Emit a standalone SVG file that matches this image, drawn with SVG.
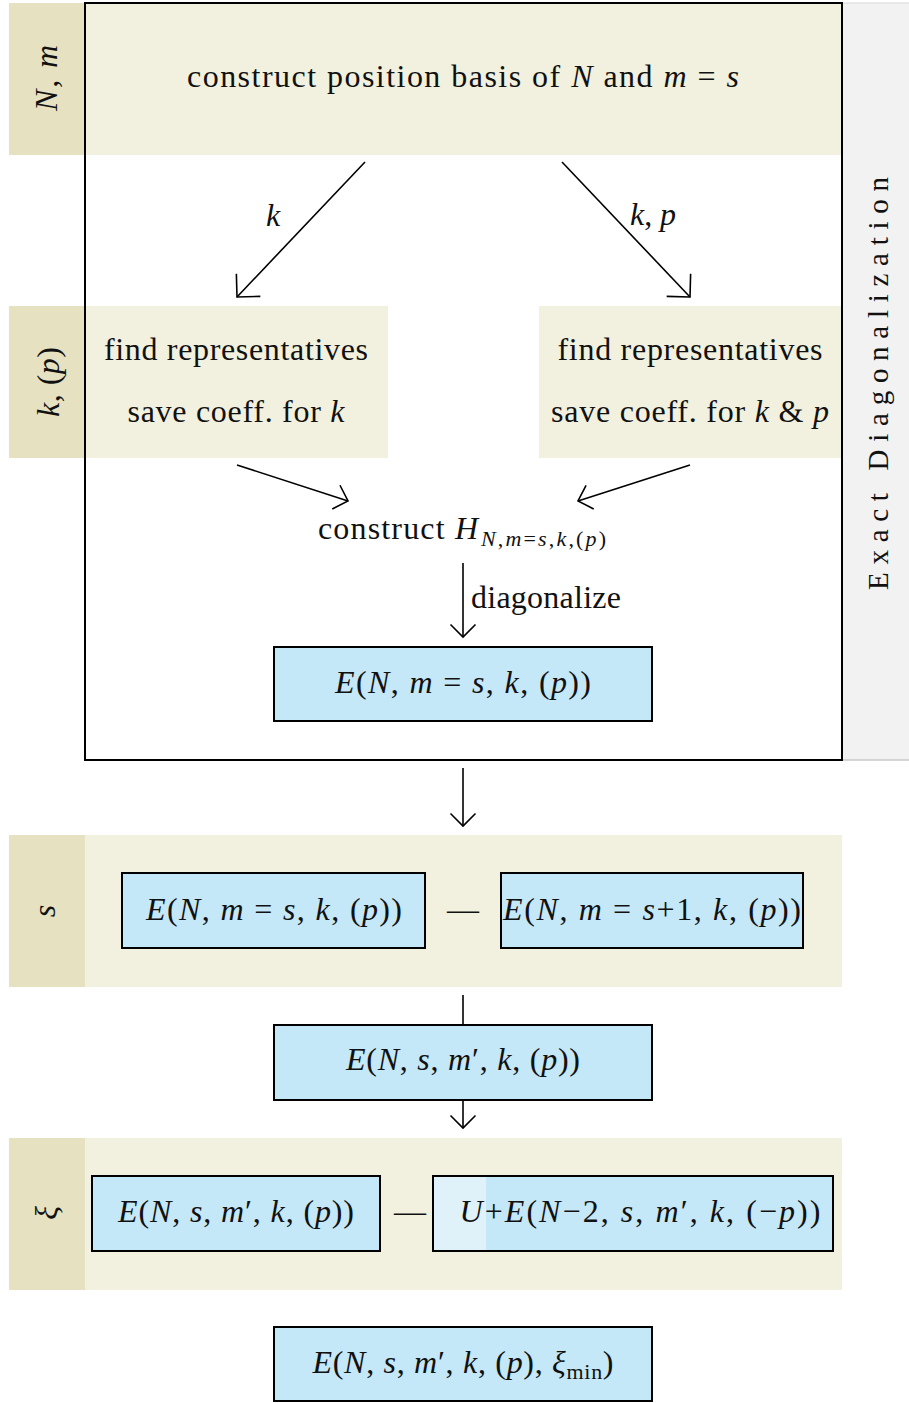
<svg xmlns="http://www.w3.org/2000/svg" width="909" height="1403" viewBox="0 0 909 1403">
<style>
text{font-family:"Liberation Serif","DejaVu Serif",serif;fill:#111;font-size:32px}
.i{font-style:italic}
.lab{fill:#e6e2c1}
.row{fill:#f2f0df}
.box{fill:#c5e8f8;stroke:#000;stroke-width:2}
.ln{stroke:#000;stroke-width:1.6;fill:none}
</style>
<defs>
<marker id="h" markerUnits="userSpaceOnUse" viewBox="-20 -20 40 40" markerWidth="40" markerHeight="40" refX="0" refY="0" orient="auto">
<path d="M-12.5,-12.5 L0,0 L-12.5,12.5" fill="none" stroke="#000" stroke-width="1.6"/>
</marker>
<marker id="hl" markerUnits="userSpaceOnUse" viewBox="-20 -20 40 40" markerWidth="40" markerHeight="40" refX="0" refY="0" orient="auto">
<path d="M-16.5,-16.5 L0,0 L-16.5,16.5" fill="none" stroke="#000" stroke-width="1.6"/>
</marker>
</defs>
<rect width="909" height="1403" fill="#fff"/>
<g id="frame-bg">
<rect x="842" y="3" width="67" height="757" fill="#f2f2f2"/>
<line x1="842" y1="760" x2="909" y2="760" stroke="#c8c8c8" stroke-width="1.5"/>
<line x1="842" y1="3" x2="909" y2="3" stroke="#d8d8d8" stroke-width="1"/>
</g>
<g id="rows">
<rect class="lab" x="9" y="3" width="76" height="152"/>
<rect class="row" x="85" y="3" width="757" height="152"/>
<rect class="lab" x="9" y="306" width="76" height="152"/>
<rect class="lab" x="9" y="835" width="76" height="152"/>
<rect class="row" x="85" y="835" width="757" height="152"/>
<rect class="lab" x="9" y="1138" width="76" height="152"/>
<rect class="row" x="85" y="1138" width="757" height="152"/>
<text class="i" transform="translate(57 78) rotate(-90)" text-anchor="middle" textLength="66" lengthAdjust="spacing">N, m</text>
<text transform="translate(59 382) rotate(-90)" text-anchor="middle" textLength="70" lengthAdjust="spacing"><tspan class="i">k</tspan>, (<tspan class="i">p</tspan>)</text>
<text class="i" transform="translate(55 911) rotate(-90)" text-anchor="middle">s</text>
<text class="i" transform="translate(57 1213) rotate(-90)" text-anchor="middle">ξ</text>
</g>
<g id="basis">
<text x="463" y="87" text-anchor="middle" textLength="552" lengthAdjust="spacing">construct position basis of <tspan class="i">N</tspan> and <tspan class="i">m</tspan> = <tspan class="i">s</tspan></text>
</g>
<g id="rep-k">
<rect class="row" x="85" y="306" width="303" height="152"/>
<text x="236" y="360" text-anchor="middle" textLength="264" lengthAdjust="spacing">find representatives</text>
<text x="236" y="422" text-anchor="middle" textLength="217" lengthAdjust="spacing">save coeff. for <tspan class="i">k</tspan></text>
</g>
<g id="rep-kp">
<rect class="row" x="539" y="306" width="303" height="152"/>
<text x="690" y="360" text-anchor="middle" textLength="265" lengthAdjust="spacing">find representatives</text>
<text x="690" y="422" text-anchor="middle" textLength="278" lengthAdjust="spacing">save coeff. for <tspan class="i">k</tspan> &amp; <tspan class="i">p</tspan></text>
</g>
<g id="frame">
<rect x="85" y="3" width="757" height="757" fill="none" stroke="#000" stroke-width="2"/>
<text transform="translate(888 381) rotate(-90)" text-anchor="middle" textLength="418" lengthAdjust="spacing" style="font-size:29px;letter-spacing:5px">Exact Diagonalization</text>
</g>
<g id="hamiltonian">
<text x="318" y="539" textLength="160" lengthAdjust="spacing">construct <tspan class="i">H</tspan></text>
<text x="481" y="546" class="i" style="font-size:22px" textLength="125" lengthAdjust="spacing">N<tspan font-style="normal">,</tspan>m<tspan font-style="normal">=</tspan>s<tspan font-style="normal">,</tspan>k<tspan font-style="normal">,(</tspan>p<tspan font-style="normal">)</tspan></text>
</g>
<g id="E1">
<rect class="box" x="274" y="647" width="378" height="74"/>
<text x="463" y="693" text-anchor="middle" textLength="256" lengthAdjust="spacing"><tspan class="i">E</tspan>(<tspan class="i">N</tspan>, <tspan class="i">m</tspan> = <tspan class="i">s</tspan>, <tspan class="i">k</tspan>, (<tspan class="i">p</tspan>))</text>
</g>
<g id="E-s">
<rect class="box" x="122" y="873" width="303" height="75"/>
<text x="274" y="920" text-anchor="middle" textLength="256" lengthAdjust="spacing"><tspan class="i">E</tspan>(<tspan class="i">N</tspan>, <tspan class="i">m</tspan> = <tspan class="i">s</tspan>, <tspan class="i">k</tspan>, (<tspan class="i">p</tspan>))</text>
</g>
<g id="E-s1">
<rect class="box" x="501" y="873" width="302" height="75"/>
<text x="652" y="920" text-anchor="middle" textLength="298" lengthAdjust="spacing"><tspan class="i">E</tspan>(<tspan class="i">N</tspan>, <tspan class="i">m</tspan> = <tspan class="i">s</tspan>+1, <tspan class="i">k</tspan>, (<tspan class="i">p</tspan>))</text>
</g>
<g id="E-sm">
<rect class="box" x="274" y="1025" width="378" height="75"/>
<text x="463" y="1070" text-anchor="middle" textLength="234" lengthAdjust="spacing"><tspan class="i">E</tspan>(<tspan class="i">N</tspan>, <tspan class="i">s</tspan>, <tspan class="i">m</tspan>′, <tspan class="i">k</tspan>, (<tspan class="i">p</tspan>))</text>
</g>
<g id="E-xi1">
<rect class="box" x="92" y="1176" width="288" height="75"/>
<text x="236" y="1222" text-anchor="middle" textLength="236" lengthAdjust="spacing"><tspan class="i">E</tspan>(<tspan class="i">N</tspan>, <tspan class="i">s</tspan>, <tspan class="i">m</tspan>′, <tspan class="i">k</tspan>, (<tspan class="i">p</tspan>))</text>
</g>
<g id="E-xi2">
<rect class="box" x="433" y="1176" width="400" height="75"/>
<rect x="434" y="1177" width="52" height="73" fill="#dff2fa"/>
<text x="640" y="1222" text-anchor="middle" textLength="361" lengthAdjust="spacing"><tspan class="i">U</tspan>+<tspan class="i">E</tspan>(<tspan class="i">N</tspan>−2, <tspan class="i">s</tspan>, <tspan class="i">m</tspan>′, <tspan class="i">k</tspan>, (−<tspan class="i">p</tspan>))</text>
</g>
<g id="E-final">
<rect class="box" x="274" y="1327" width="378" height="74"/>
<text x="463" y="1373" text-anchor="middle" textLength="301" lengthAdjust="spacing"><tspan class="i">E</tspan>(<tspan class="i">N</tspan>, <tspan class="i">s</tspan>, <tspan class="i">m</tspan>′, <tspan class="i">k</tspan>, (<tspan class="i">p</tspan>), <tspan class="i">ξ</tspan><tspan style="font-size:22px" dy="6">min</tspan><tspan dy="-6">)</tspan></text>
</g>
<g id="connectors">
<line class="ln" x1="365" y1="162" x2="237" y2="297" marker-end="url(#hl)"/>
<line class="ln" x1="562" y1="162" x2="690" y2="297" marker-end="url(#hl)"/>
<text class="i" x="266" y="226">k</text>
<text x="630" y="225" textLength="46" lengthAdjust="spacing"><tspan class="i">k</tspan>, <tspan class="i">p</tspan></text>
<line class="ln" x1="237" y1="465" x2="348" y2="501" marker-end="url(#h)"/>
<line class="ln" x1="690" y1="465" x2="578" y2="501" marker-end="url(#h)"/>
<line class="ln" x1="463" y1="563" x2="463" y2="637" marker-end="url(#h)"/>
<text x="471" y="608" textLength="150" lengthAdjust="spacing">diagonalize</text>
<line class="ln" x1="463" y1="768" x2="463" y2="826" marker-end="url(#h)"/>
<text x="463" y="920" text-anchor="middle">—</text>
<line class="ln" x1="463" y1="995" x2="463" y2="1025"/>
<line class="ln" x1="463" y1="1100" x2="463" y2="1128" marker-end="url(#h)"/>
<text x="410" y="1222" text-anchor="middle">—</text>
</g>
</svg>
